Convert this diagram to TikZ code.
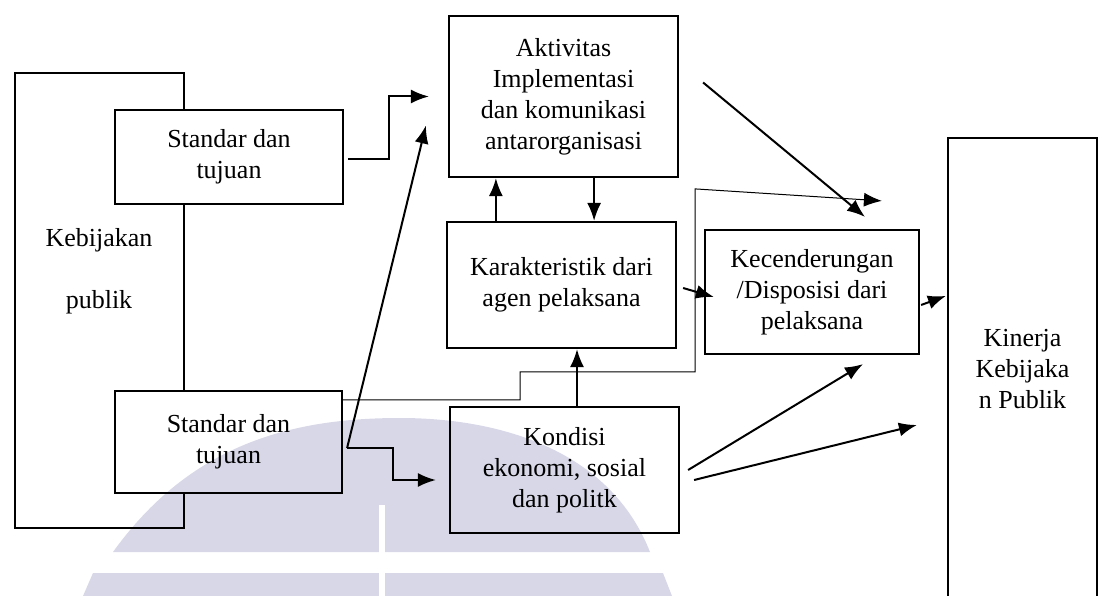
\documentclass[tikz,border=0pt]{standalone}
\usepackage{fontspec}
\setmainfont{Liberation Serif}
\usetikzlibrary{arrows.meta,calc}
\definecolor{wm}{RGB}{215,215,232}
\begin{document}
\begin{tikzpicture}[x=1pt,y=-1pt,
  txt/.style={align=center,inner sep=0pt,font=\fontsize{26}{31}\selectfont},
  box/.style={txt,draw,line width=2.2pt,rectangle},
  boxline/.style={line width=2.2pt},
  arr/.style={line width=2pt,-{Latex[length=18pt,width=14pt]}},
  thinarr/.style={line width=1pt,-{Latex[length=18pt,width=14pt]}}]
\useasboundingbox (0,0) rectangle (1102,596);
% watermark
\fill[wm] (113,552) .. controls (190,445) and (290,418) .. (400,418)
  .. controls (500,418) and (610,450) .. (650,552) -- cycle;
\fill[wm] (93,573) -- (663,573) -- (672,596) -- (83,596) -- cycle;
\fill[white] (379,505) rectangle (385,596);
% nodes
\node[box,draw=none,minimum width=167pt,minimum height=453pt] (kp) at (99.5,300.5) {};
\node[txt] (kpt) at (99,271) {Kebijakan\\[31pt]publik};
\node[box,minimum width=228pt,minimum height=94pt] (s1) at (229,157) {Standar dan\\tujuan};
\node[box,minimum width=227pt,minimum height=102pt] (s2) at (228.5,442) {Standar dan\\tujuan};
\node[box,minimum width=229pt,minimum height=161pt] (akt) at (563.5,96.5) {Aktivitas\\Implementasi\\dan komunikasi\\antarorganisasi};
\node[box,minimum width=229pt,minimum height=126pt] (kar) at (561.5,285) {Karakteristik dari\\agen pelaksana};
\node[box,minimum width=229pt,minimum height=126pt] (kon) at (564.5,470) {Kondisi\\ekonomi, sosial\\dan politk};
\node[box,minimum width=214pt,minimum height=124pt] (kec) at (812,292) {Kecenderungan\\/Disposisi dari\\pelaksana};
\node[box,minimum width=149pt,minimum height=462pt] (kin) at (1022.5,369) {Kinerja\\Kebijaka\\n Publik};
% Kebijakan outline (behind the two Standar boxes)
\draw[boxline] (kp.north east |- s1.north) -- (kp.north east) -- (kp.north west)
  -- (kp.south west) -- (kp.south east) -- (kp.south east |- s2.south);
\draw[boxline] (kp.east |- s1.south) -- (kp.east |- s2.north);
% connectors
\draw[arr] ($(s1.east)+(4,2)$) -- ++(41,0) |- ($(akt.west)+(-19,0)$);
\draw[arr] ($(s2.east)+(4,6)$) -- ($(akt.west)+(-22,29)$);
\draw[arr] ($(s2.east)+(4,6)$) -- ++(46,0) |- ($(kon.west)+(-13,10)$);
\draw[thinarr] ($(s2.north east)+(0,10)$) -- ++(177,0) -- ++(0,-28) -- ++(175,0)
  -- ++(0,-183) -- ($(kin.north west)+(-65,64)$);
\draw[arr] ($(kon.north)+(12.5,0)$) coordinate (k1) -- (k1 |- kar.south);
\draw[arr] ($(kar.north west)+(50,0)$) coordinate (k2) -- (k2 |- akt.south);
\draw[arr] ($(akt.south east)+(-85,0)$) coordinate (k3) -- (k3 |- kar.north);
\draw[arr] ($(akt.east)+(24,-14)$) -- ($(kec.north)+(53,-12)$);
\draw[arr] ($(kar.east)+(6,3)$) -- ($(kec.west)+(10,5)$);
\draw[arr] ($(kec.east)+(1,13)$) -- ($(kin.north west)+(-1,159)$);
\draw[arr] ($(kon.east)+(8,0)$) -- ($(kec.south)+(51,9)$);
\draw[arr] ($(kon.east)+(14,10)$) -- ($(kin.west)+(-30,56)$);
\end{tikzpicture}
\end{document}
